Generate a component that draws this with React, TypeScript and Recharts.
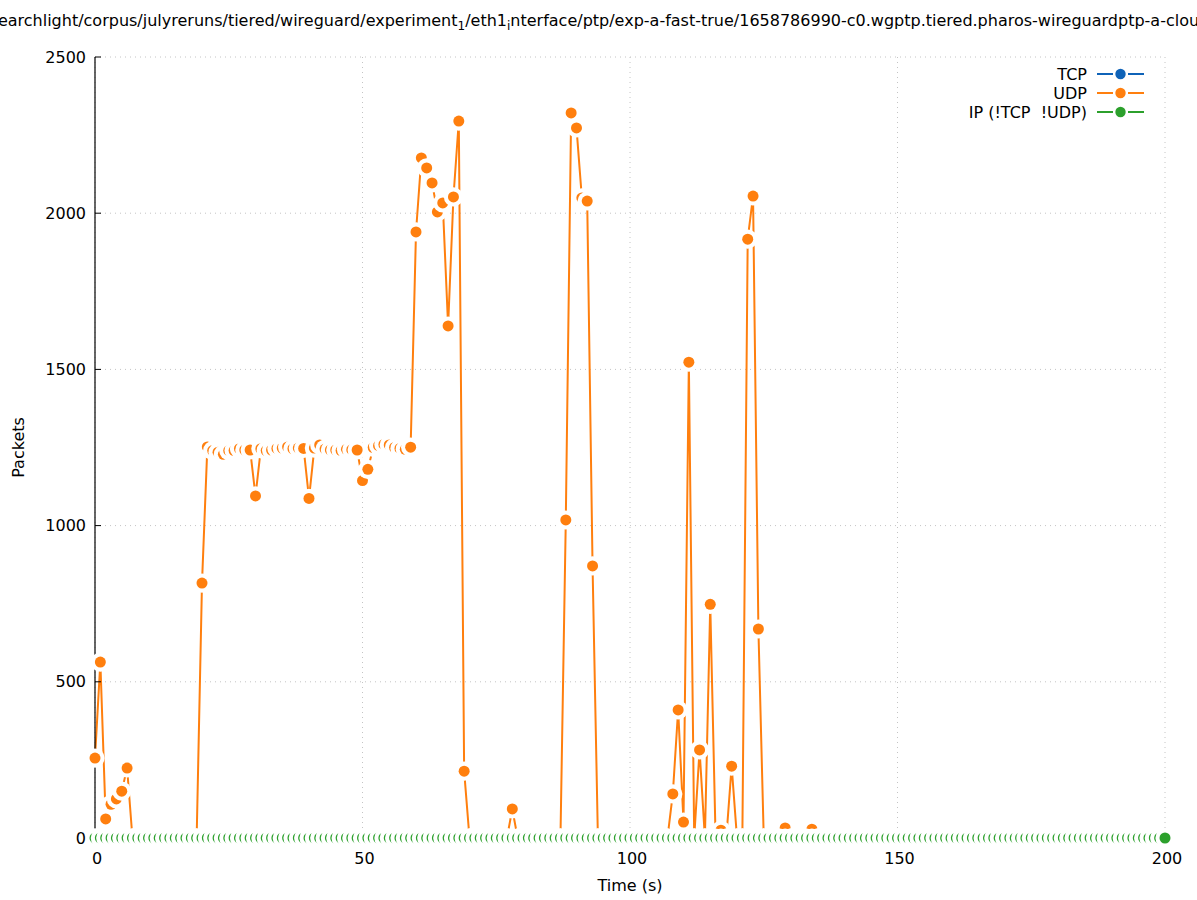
import React from 'react';
import { LineChart, Line, XAxis, YAxis, CartesianGrid } from 'recharts';

// time axis: one sample per second, 0..200 s
const timeSeconds: number[] = Array.from({ length: 201 }, (_, i) => i);

const udpPackets: number[] = [
  256, 563, 61, 108, 125, 150, 224, 0, 0, 0,
  0, 0, 0, 0, 0, 0, 0, 0, 0, 0,
  816, 1252, 1240, 1235, 1228, 1240, 1240, 1246, 1242, 1242,
  1095, 1246, 1240, 1242, 1247, 1248, 1252, 1246, 1248, 1247,
  1087, 1248, 1258, 1245, 1242, 1242, 1240, 1244, 1243, 1242,
  1144, 1180, 1250, 1256, 1260, 1258, 1250, 1247, 1244, 1251,
  1940, 2177, 2145, 2097, 2004, 2033, 1639, 2052, 2295, 214,
  0, 0, 0, 0, 0, 0, 0, 0, 93, 0,
  0, 0, 0, 0, 0, 0, 0, 0, 1018, 2321,
  2273, 2049, 2039, 871, 0, 0, 0, 0, 0, 0,
  0, 0, 0, 0, 0, 0, 0, 0, 141, 410,
  51, 1523, 0, 282, 0, 748, 0, 25, 0, 230,
  0, 0, 1917, 2055, 669, 0, 0, 0, 0, 32,
  0, 0, 0, 0, 28, 0, 0, 0, 0, 0,
  0, 0, 0, 0, 0, 0, 0, 0, 0, 0,
  0, 0, 0, 0, 0, 0, 0, 0, 0, 0,
  0, 0, 0, 0, 0, 0, 0, 0, 0, 0,
  0, 0, 0, 0, 0, 0, 0, 0, 0, 0,
  0, 0, 0, 0, 0, 0, 0, 0, 0, 0,
  0, 0, 0, 0, 0, 0, 0, 0, 0, 0,
  0,
];

const tcpPackets: number[] = [
  0, 0, 0, 0, 0, 0, 0, 0, 0, 0, 0, 0, 0, 0, 0, 0, 0, 0, 0, 0,
  0, 0, 0, 0, 0, 0, 0, 0, 0, 0, 0, 0, 0, 0, 0, 0, 0, 0, 0, 0,
  0, 0, 0, 0, 0, 0, 0, 0, 0, 0, 0, 0, 0, 0, 0, 0, 0, 0, 0, 0,
  0, 0, 0, 0, 0, 0, 0, 0, 0, 0, 0, 0, 0, 0, 0, 0, 0, 0, 0, 0,
  0, 0, 0, 0, 0, 0, 0, 0, 0, 0, 0, 0, 0, 0, 0, 0, 0, 0, 0, 0,
  0, 0, 0, 0, 0, 0, 0, 0, 0, 0, 0, 0, 0, 0, 0, 0, 0, 0, 0, 0,
  0, 0, 0, 0, 0, 0, 0, 0, 0, 0, 0, 0, 0, 0, 0, 0, 0, 0, 0, 0,
  0, 0, 0, 0, 0, 0, 0, 0, 0, 0, 0, 0, 0, 0, 0, 0, 0, 0, 0, 0,
  0, 0, 0, 0, 0, 0, 0, 0, 0, 0, 0, 0, 0, 0, 0, 0, 0, 0, 0, 0,
  0, 0, 0, 0, 0, 0, 0, 0, 0, 0, 0, 0, 0, 0, 0, 0, 0, 0, 0, 0,
  0,
];

const ipPackets: number[] = [
  0, 0, 0, 0, 0, 0, 0, 0, 0, 0, 0, 0, 0, 0, 0, 0, 0, 0, 0, 0,
  0, 0, 0, 0, 0, 0, 0, 0, 0, 0, 0, 0, 0, 0, 0, 0, 0, 0, 0, 0,
  0, 0, 0, 0, 0, 0, 0, 0, 0, 0, 0, 0, 0, 0, 0, 0, 0, 0, 0, 0,
  0, 0, 0, 0, 0, 0, 0, 0, 0, 0, 0, 0, 0, 0, 0, 0, 0, 0, 0, 0,
  0, 0, 0, 0, 0, 0, 0, 0, 0, 0, 0, 0, 0, 0, 0, 0, 0, 0, 0, 0,
  0, 0, 0, 0, 0, 0, 0, 0, 0, 0, 0, 0, 0, 0, 0, 0, 0, 0, 0, 0,
  0, 0, 0, 0, 0, 0, 0, 0, 0, 0, 0, 0, 0, 0, 0, 0, 0, 0, 0, 0,
  0, 0, 0, 0, 0, 0, 0, 0, 0, 0, 0, 0, 0, 0, 0, 0, 0, 0, 0, 0,
  0, 0, 0, 0, 0, 0, 0, 0, 0, 0, 0, 0, 0, 0, 0, 0, 0, 0, 0, 0,
  0, 0, 0, 0, 0, 0, 0, 0, 0, 0, 0, 0, 0, 0, 0, 0, 0, 0, 0, 0,
  0,
];

const seriesKeys = ['tcp', 'udp', 'ip'];
const seriesNames = ['TCP', 'UDP', 'IP (!TCP  !UDP)'];
const seriesColors = ['#0f63b8', '#ff7f0e', '#2ca02c'];
const xTicks = [0, 50, 100, 150, 200];
const yTicks = [0, 500, 1000, 1500, 2000, 2500];

const titleMain = 'earchlight/corpus/julyreruns/tiered/wireguard/experiment';
const titleSub1 = '1';
const titleMid = '/eth1';
const titleSub2 = 'i';
const titleEnd = 'nterface/ptp/exp-a-fast-true/1658786990-c0.wgptp.tiered.pharos-wireguardptp-a-clou';

const FONT = 'DejaVu Sans, sans-serif';

const data = timeSeconds.map((t, i) => ({
  t,
  tcp: tcpPackets[i],
  udp: udpPackets[i],
  ip: ipPackets[i],
}));

const makeDot = (color: string, name: string) => (props: any) => {
  const { cx, cy, index } = props;
  if (cx == null || cy == null) return <g key={`d-${name}-${index}`} />;
  return (
    <g key={`d-${name}-${index}`}>
      <circle cx={cx} cy={cy} r={9.6} fill="#ffffff" />
      <circle cx={cx} cy={cy} r={5.5} fill={color} />
    </g>
  );
};

const XLabel = (props: any) => {
  const vb = props.viewBox || {};
  return (
    <text
      x={vb.x + vb.width / 2}
      y={891}
      textAnchor="middle"
      fontFamily={FONT}
      fontSize={16}
      fill="#000"
    >
      Time (s)
    </text>
  );
};

const YLabel = (props: any) => {
  const vb = props.viewBox || {};
  const cx = vb.x + 18;
  const cy = vb.y + vb.height / 2;
  return (
    <text
      x={cx}
      y={cy}
      transform={`rotate(-90, ${cx}, ${cy})`}
      textAnchor="middle"
      dominantBaseline="central"
      fontFamily={FONT}
      fontSize={16}
      fill="#000"
    >
      Packets
    </text>
  );
};

export default function App() {
  return (
    <div style={{ position: 'absolute', left: 0, top: 0, width: 1197, height: 900, background: '#fff' }}>
      <LineChart
        width={1197}
        height={900}
        data={data}
        margin={{ top: 57, right: 32, bottom: 32, left: 0 }}
        style={{ fontFamily: FONT }}
      >
        <CartesianGrid
          xAxisId="x"
          yAxisId="y"
          stroke="#c4c4c4"
          strokeDasharray="1 4"
          horizontalValues={yTicks}
          verticalValues={xTicks}
        />
        {seriesKeys.map((k, i) => (
          <Line
            key={k}
            xAxisId="x"
            yAxisId="y"
            type="linear"
            dataKey={k}
            name={seriesNames[i]}
            stroke={seriesColors[i]}
            strokeWidth={2}
            dot={makeDot(seriesColors[i], k)}
            activeDot={false}
            isAnimationActive={false}
          />
        ))}
        <XAxis
          xAxisId="x"
          dataKey="t"
          type="number"
          domain={[0, 200]}
          ticks={xTicks}
          height={30}
          tickSize={-6}
          tickMargin={21}
          axisLine={{ stroke: '#000', strokeWidth: 1.2 }}
          tickLine={{ stroke: '#000' }}
          tick={{ fill: '#000', fontSize: 16, fontFamily: FONT, dx: 2 }}
          label={<XLabel />}
        />
        <XAxis
          xAxisId="top"
          orientation="top"
          dataKey="t"
          type="number"
          domain={[0, 200]}
          ticks={xTicks}
          height={0}
          tickSize={-6}
          axisLine={false}
          tickLine={{ stroke: '#000' }}
          tick={false}
        />
        <YAxis
          yAxisId="y"
          type="number"
          domain={[0, 2500]}
          ticks={yTicks}
          width={95}
          tickSize={-6}
          tickMargin={15}
          axisLine={{ stroke: '#000', strokeWidth: 1.2 }}
          tickLine={{ stroke: '#000' }}
          tick={{ fill: '#000', fontSize: 16, fontFamily: FONT }}
          label={<YLabel />}
        />
        <YAxis
          yAxisId="right"
          orientation="right"
          type="number"
          domain={[0, 2500]}
          ticks={yTicks}
          width={0}
          tickSize={-6}
          axisLine={false}
          tickLine={{ stroke: '#000' }}
          tick={false}
        />
      </LineChart>
      <svg
        width={1197}
        height={900}
        style={{ position: 'absolute', left: 0, top: 0, pointerEvents: 'none' }}
      >
        <text x={598.5} y={26} textAnchor="middle" fontFamily={FONT} fontSize={16} fill="#000">
          {titleMain}
          <tspan fontSize={12} dy={4}>{titleSub1}</tspan>
          <tspan fontSize={16} dy={-4}>{titleMid}</tspan>
          <tspan fontSize={12} dy={4}>{titleSub2}</tspan>
          <tspan fontSize={16} dy={-4}>{titleEnd}</tspan>
        </text>
        {seriesNames.map((name, i) => {
          const y = 74 + i * 19;
          const c = seriesColors[i];
          return (
            <g key={name}>
              <text
                x={1087}
                y={y}
                textAnchor="end"
                dominantBaseline="central"
                fontFamily={FONT}
                fontSize={16}
                fill="#000"
                style={{ whiteSpace: 'pre' }}
                xmlSpace="preserve"
              >
                {name}
              </text>
              <line x1={1097} x2={1113} y1={y} y2={y} stroke={c} strokeWidth={2} />
              <line x1={1128} x2={1144} y1={y} y2={y} stroke={c} strokeWidth={2} />
              <circle cx={1120.5} cy={y} r={5.2} fill={c} />
            </g>
          );
        })}
      </svg>
    </div>
  );
}
